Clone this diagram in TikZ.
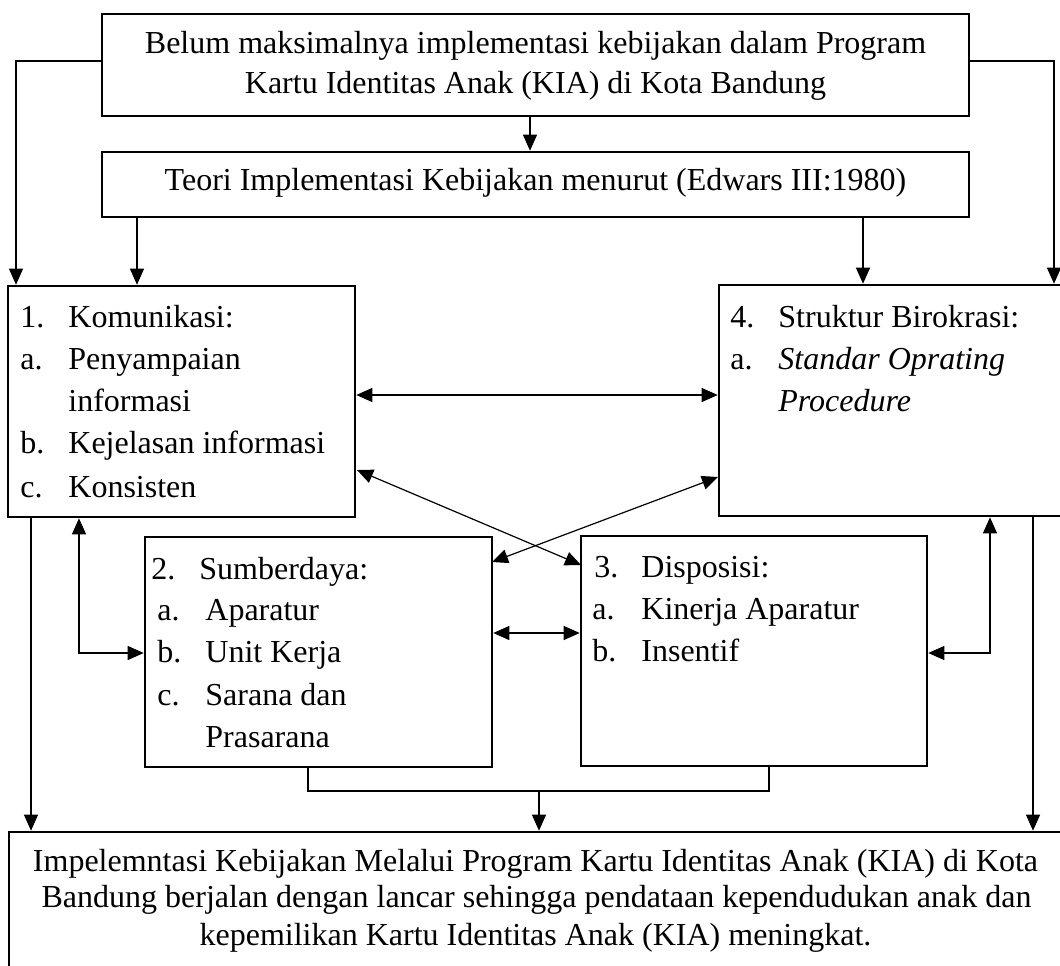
\documentclass[tikz,border=0pt]{standalone}
\usepackage{fontspec}
\setmainfont{Liberation Serif}
\usetikzlibrary{arrows.meta,fit}
\begin{document}
\begin{tikzpicture}[x=0.5pt,y=-0.5pt,
  box/.style={draw,line width=1.3pt,inner sep=0pt},
  txt/.style={inner sep=0pt,anchor=base west,font=\fontsize{16}{20}\selectfont},
  ctxt/.style={inner sep=0pt,anchor=base,font=\fontsize{16}{20}\selectfont},
  con/.style={line width=0.6pt},
  arr/.style={con,-{Triangle[length=8pt,width=7pt]}},
  darr/.style={con,{Triangle[length=8pt,width=7pt]}-{Triangle[length=8pt,width=7pt]}}]
\useasboundingbox (0,0) rectangle (1060,965);
\fill[white] (0,0) rectangle (1060,965);
\clip (0,0) rectangle (1060,965);

% boxes
\node[box,fit={(102,14) (969,116)}] (top) {};
\node[box,fit={(102,152) (969,217)}] (teori) {};
\node[box,fit={(8,286) (355,517)}] (kom) {};
\node[box,fit={(719,285) (1085,516)}] (str) {};
\node[box,fit={(145,537) (492,767)}] (sum) {};
\node[box,fit={(581,536) (927,766)}] (dis) {};
\node[box,fit={(9,832) (1085,1000)}] (bot) {};

% texts
\node[ctxt] (t1) at (535.5,53) {Belum maksimalnya implementasi kebijakan dalam Program};
\node[ctxt] (t2) at (535.5,93) {Kartu Identitas Anak (KIA) di Kota Bandung};
\node[ctxt] (te) at (535.5,190) {Teori Implementasi Kebijakan menurut (Edwars III:1980)};

\node[txt] (k1n) at (20,327) {1.};
\node[txt] (k1) at (68,327) {Komunikasi:};
\node[txt] (k2n) at (20,369) {a.};
\node[txt] (k2) at (68,369) {Penyampaian};
\node[txt] (k3) at (68,411) {informasi};
\node[txt] (k4n) at (20,453) {b.};
\node[txt] (k4) at (68,453) {Kejelasan informasi};
\node[txt] (k5n) at (20,497) {c.};
\node[txt] (k5) at (68,497) {Konsisten};

\node[txt] (s1n) at (730,327) {4.};
\node[txt] (s1) at (778,327) {Struktur Birokrasi:};
\node[txt] (s2n) at (730,369) {a.};
\node[txt] (s2) at (778,369) {\itshape Standar Oprating};
\node[txt] (s3) at (778,411) {\itshape Procedure};

\node[txt] (r1n) at (151,579) {2.};
\node[txt] (r1) at (199,579) {Sumberdaya:};
\node[txt] (r2n) at (157,620) {a.};
\node[txt] (r2) at (205,620) {Aparatur};
\node[txt] (r3n) at (157,662) {b.};
\node[txt] (r3) at (205,662) {Unit Kerja};
\node[txt] (r4n) at (157,705) {c.};
\node[txt] (r4) at (205,705) {Sarana dan};
\node[txt] (r5) at (205,747) {Prasarana};

\node[txt] (d1n) at (594,577) {3.};
\node[txt] (d1) at (641,577) {Disposisi:};
\node[txt] (d2n) at (592,619) {a.};
\node[txt] (d2) at (641,619) {Kinerja Aparatur};
\node[txt] (d3n) at (592,661) {b.};
\node[txt] (d3) at (641,661) {Insentif};

\node[ctxt] (b1) at (535.5,871) {Impelemntasi Kebijakan Melalui Program Kartu Identitas Anak (KIA) di Kota};
\node[ctxt] (b2) at (536.5,907) {Bandung berjalan dengan lancar sehingga pendataan kependudukan anak dan};
\node[ctxt] (b3) at (535.5,945) {kepemilikan Kartu Identitas Anak (KIA) meningkat.};

% helper coordinates
\coordinate (cL) at (16,61);
\coordinate (cR) at (1054,61);
\coordinate (cM) at (530,0);
\coordinate (cTL) at (137,0);
\coordinate (cTR) at (863,0);
\coordinate (h1) at (0,395);
\coordinate (g1) at (357,470);
\coordinate (g2) at (581,565);
\coordinate (g3) at (718,477);
\coordinate (g4) at (492,562);
\coordinate (v1) at (79,653);
\coordinate (h2) at (0,633);
\coordinate (v2) at (990,653);
\coordinate (cLL) at (31,0);
\coordinate (cRR) at (1033,0);
\coordinate (j1) at (308,791);
\coordinate (j2) at (769,791);
\coordinate (j3) at (539,791);

% connectors
\draw[arr] (top.west |- cL) -- (cL) -- (cL |- kom.north);
\draw[arr] (top.east |- cR) -- (cR) -- (cR |- str.north);
\draw[arr] (top.south -| cM) -- (teori.north -| cM);
\draw[arr] (teori.south -| cTL) -- (kom.north -| cTL);
\draw[arr] (teori.south -| cTR) -- (str.north -| cTR);
\draw[darr] (kom.east |- h1) -- (str.west |- h1);
\draw[darr] (g1) -- (g2);
\draw[darr] (g3) -- (g4);
\draw[darr] (kom.south -| v1) -- (v1) -- (sum.west |- v1);
\draw[darr] (sum.east |- h2) -- (dis.west |- h2);
\draw[darr] (dis.east |- v2) -- (v2) -- (str.south -| v2);
\draw[arr] (kom.south -| cLL) -- (bot.north -| cLL);
\draw[arr] (str.south -| cRR) -- (bot.north -| cRR);
\draw[con] (sum.south -| j1) -- (j1) -- (j2) -- (dis.south -| j2);
\draw[arr] (j3) -- (bot.north -| j3);
\end{tikzpicture}
\end{document}
